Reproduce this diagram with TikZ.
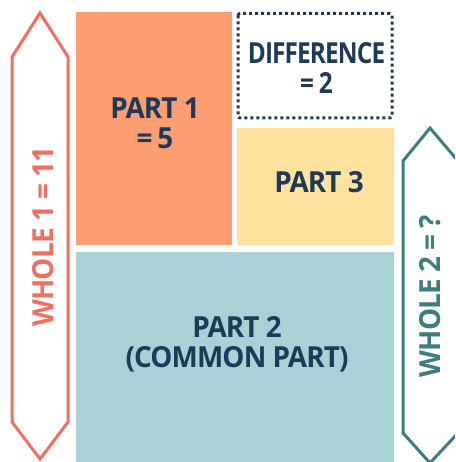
\documentclass[tikz,border=0pt]{standalone}
\usepackage{fontspec}
\newfontfamily\lblfont{Open Sans}[FakeStretch=0.96, LetterSpace=-3]
\newfontfamily\difffont{Open Sans}[FakeStretch=0.84, LetterSpace=-3]
\definecolor{partone}{RGB}{255,157,114}
\definecolor{partthree}{RGB}{255,226,158}
\definecolor{parttwo}{RGB}{168,210,214}
\definecolor{navy}{RGB}{30,58,90}
\definecolor{salmon}{RGB}{243,110,94}
\definecolor{darkteal}{RGB}{62,125,126}
\tikzset{
  lbl/.style={inner sep=0pt, align=center, text=navy, font=\lblfont\bfseries\fontsize{29}{30}\selectfont},
  wholearrow/.style={line width=3pt, line join=miter, fill=white},
  wholelbl/.style={inner sep=0pt, rotate=90, font=\lblfont\bfseries\fontsize{29}{30}\selectfont}
}
\begin{document}
\begin{tikzpicture}[x=1pt,y=-1pt]
\useasboundingbox (0,0) rectangle (455,462);
\begin{scope}
\clip (0,0) rectangle (455,462);
% blocks
\fill[partone] (76,12) rectangle (232,245);
\node[lbl] (p1) at (155,123.5) {PART 1\\=\,5};
\draw[navy, line width=3pt, dash pattern=on 3pt off 3pt, rounded corners=2pt] (238,13.5) rectangle (392,118);
\node[lbl, font=\difffont\bfseries\fontsize{29}{30}\selectfont] (diff) at (316.5,68) {DIFFERENCE\\=\,2};
\fill[partthree] (237,128) rectangle (394,245);
\node[lbl] (p3) at (319,182) {PART 3};
\fill[parttwo] (76,252) rectangle (394,470);
\node[lbl] (p2) at (237,344) {PART 2\\(COMMON PART)};
% whole arrows
\draw[wholearrow, draw=salmon] (40,13) -- (68,57) -- (68,422) -- (40,459) -- (12,422) -- (12,57) -- cycle;
\node[wholelbl, text=salmon] (w1) at (43.5,236.5) {WHOLE 1 = 11};
\draw[wholearrow, draw=darkteal] (430,128) -- (458,161) -- (458,433) -- (430,463) -- (403,433) -- (403,161) -- cycle;
\node[wholelbl, text=darkteal] (w2) at (430,296) {WHOLE 2 = ?};
\end{scope}
\end{tikzpicture}
\end{document}
